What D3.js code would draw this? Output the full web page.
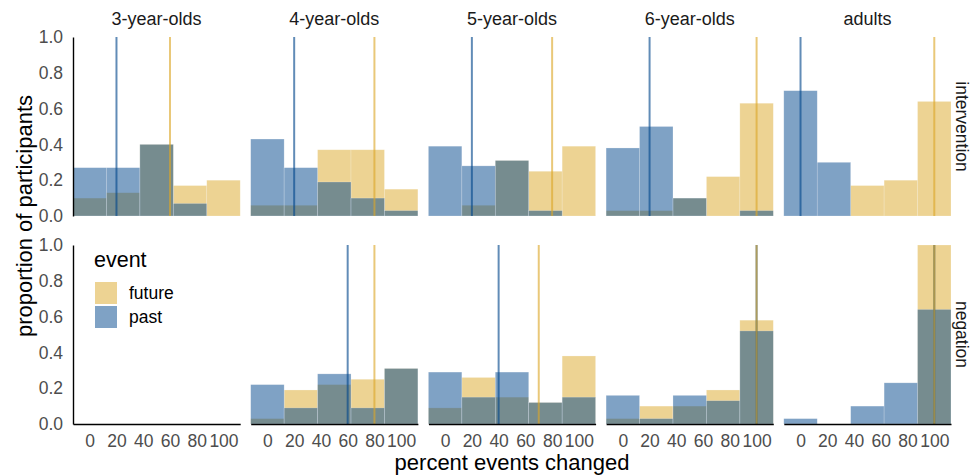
<!DOCTYPE html>
<html>
<head>
<meta charset="utf-8">
<script src="https://cdn.jsdelivr.net/npm/d3@7"></script>
<style>
  html, body { margin: 0; padding: 0; background: #ffffff; }
  svg { display: block; font-family: "Liberation Sans", Arial, Helvetica, sans-serif; }
</style>
</head>
<body>
<svg id="chart" width="972" height="475"></svg>
<script>
// ---------- data ----------
const groups = ["3-year-olds", "4-year-olds", "5-year-olds", "6-year-olds", "adults"];
const conditions = ["intervention", "negation"];
const events = ["future", "past"];
const binCenters = [0, 25, 50, 75, 100];
const xTicks = [0, 20, 40, 60, 80, 100];
const yTicks = [0, 0.2, 0.4, 0.6, 0.8, 1.0];

// proportion of participants per bin, one row per age group
const interventionFuture = [
  [0.10, 0.13, 0.40, 0.17, 0.20],
  [0.06, 0.06, 0.37, 0.37, 0.15],
  [0.00, 0.06, 0.31, 0.25, 0.39],
  [0.03, 0.03, 0.10, 0.22, 0.63],
  [0.00, 0.00, 0.17, 0.20, 0.64]
];
const interventionPast = [
  [0.27, 0.27, 0.40, 0.07, 0.00],
  [0.43, 0.27, 0.19, 0.10, 0.03],
  [0.39, 0.28, 0.31, 0.03, 0.00],
  [0.38, 0.50, 0.10, 0.00, 0.03],
  [0.70, 0.30, 0.00, 0.00, 0.00]
];
const negationFuture = [
  null,
  [0.03, 0.19, 0.22, 0.25, 0.31],
  [0.09, 0.26, 0.15, 0.12, 0.38],
  [0.03, 0.10, 0.10, 0.19, 0.58],
  [0.00, 0.00, 0.00, 0.00, 1.00]
];
const negationPast = [
  null,
  [0.22, 0.09, 0.28, 0.09, 0.31],
  [0.29, 0.15, 0.29, 0.12, 0.15],
  [0.16, 0.03, 0.16, 0.13, 0.52],
  [0.03, 0.00, 0.10, 0.23, 0.64]
];
// summary (vertical) lines, percent events changed
const interventionFutureLine = [60, 80, 80, 100, 100];
const interventionPastLine = [20, 20, 20, 20, 0];
const negationFutureLine = [null, 80, 70, 100, 100];
const negationPastLine = [null, 60, 40, 100, 100];

const dataTable = {
  intervention: { future: interventionFuture, past: interventionPast,
                  futureLine: interventionFutureLine, pastLine: interventionPastLine },
  negation: { future: negationFuture, past: negationPast,
              futureLine: negationFutureLine, pastLine: negationPastLine }
};

// ---------- styles ----------
const fillColor = { future: "rgb(219,167,39)", past: "rgb(0,69,139)" };
const barOpacity = 0.5;
const lineOpacity = 0.62;
const fontFamily = '"Liberation Sans", Arial, Helvetica, sans-serif';

// ---------- layout ----------
const svg = d3.select("#chart");
const panelLeft = 73, panelW = 167.2, panelGap = 10.5;
const rowTop = [37, 245], panelH = 179;
const binWidth = 25;

const xBand = d3.scaleBand().domain(groups)
  .range([panelLeft, panelLeft + groups.length * panelW + (groups.length - 1) * panelGap])
  .paddingInner(panelGap / (panelW + panelGap)).paddingOuter(0);

conditions.forEach((cond, ri) => {
  const y = d3.scaleLinear().domain([0, 1]).range([rowTop[ri] + panelH, rowTop[ri]]);
  groups.forEach((g, gi) => {
    const x0 = xBand(g);
    const x = d3.scaleLinear().domain([-12.5, 112.5]).range([x0, x0 + xBand.bandwidth()]);
    const panel = svg.append("g");
    const tbl = dataTable[cond];

    events.forEach(ev => {
      const vals = tbl[ev][gi];
      if (!vals) return;
      panel.selectAll(null).data(binCenters.map((c, i) => ({ c, v: vals[i] })).filter(d => d.v > 0))
        .enter().append("rect")
        .attr("x", d => x(d.c - binWidth / 2))
        .attr("width", d => x(d.c + binWidth / 2) - x(d.c - binWidth / 2))
        .attr("y", d => y(d.v))
        .attr("height", d => y(0) - y(d.v))
        .attr("fill", fillColor[ev])
        .attr("fill-opacity", barOpacity)
        .attr("stroke", "#ffffff")
        .attr("stroke-opacity", 0.35)
        .attr("stroke-width", 0.6);
    });

    ["past", "future"].forEach(ev => {
      const lv = tbl[ev + "Line"][gi];
      if (lv === null || lv === undefined) return;
      panel.append("line")
        .attr("x1", x(lv)).attr("x2", x(lv))
        .attr("y1", y(1)).attr("y2", y(0))
        .attr("stroke", fillColor[ev])
        .attr("stroke-opacity", lineOpacity)
        .attr("stroke-width", 2);
    });

    // axes
    if (gi === 0) {
      const ya = panel.append("g").attr("transform", `translate(${x0},0)`)
        .call(d3.axisLeft(y).tickValues(yTicks).tickFormat(d3.format(".1f")).tickSize(0).tickPadding(10));
      ya.select(".domain").attr("stroke", "#000").attr("stroke-width", 1.4);
      ya.selectAll("text").attr("font-size", 17.5).attr("fill", "#4d4d4d")
        .attr("font-family", fontFamily);
    }
    if (ri === 1) {
      const xa = panel.append("g").attr("transform", `translate(0,${y(0)})`)
        .call(d3.axisBottom(x).tickValues(xTicks).tickFormat(d3.format("d")).tickSize(0).tickPadding(11));
      xa.select(".domain").attr("stroke", "#000").attr("stroke-width", 1.4);
      xa.selectAll("text").attr("font-size", 17.5).attr("fill", "#4d4d4d")
        .attr("font-family", fontFamily);
    }

    // strip text on top
    if (ri === 0) {
      svg.append("text")
        .attr("x", x0 + xBand.bandwidth() / 2).attr("y", 25)
        .attr("text-anchor", "middle")
        .attr("font-size", 18).attr("fill", "#1a1a1a")
        .text(g);
    }
  });

  // right strip
  svg.append("text")
    .attr("transform", `translate(956,${rowTop[ri] + panelH / 2}) rotate(90)`)
    .attr("text-anchor", "middle")
    .attr("font-size", 17.5).attr("fill", "#1a1a1a")
    .text(cond);
});

// axis titles
svg.append("text")
  .attr("transform", "translate(32,216) rotate(-90)")
  .attr("text-anchor", "middle")
  .attr("font-size", 22).attr("fill", "#000")
  .text("proportion of participants");
svg.append("text")
  .attr("x", 512).attr("y", 470)
  .attr("text-anchor", "middle")
  .attr("font-size", 22).attr("fill", "#000")
  .text("percent events changed");

// legend
const legend = svg.append("g");
legend.append("text").attr("x", 94).attr("y", 267)
  .attr("font-size", 21.5).attr("fill", "#000").text("event");
events.forEach((ev, i) => {
  legend.append("rect")
    .attr("x", 95).attr("y", 282 + i * 24)
    .attr("width", 22).attr("height", 22)
    .attr("fill", fillColor[ev]).attr("fill-opacity", barOpacity);
  legend.append("text")
    .attr("x", 129).attr("y", 298.5 + i * 24)
    .attr("font-size", 17.5).attr("fill", "#000").text(ev);
});
</script>
</body>
</html>
